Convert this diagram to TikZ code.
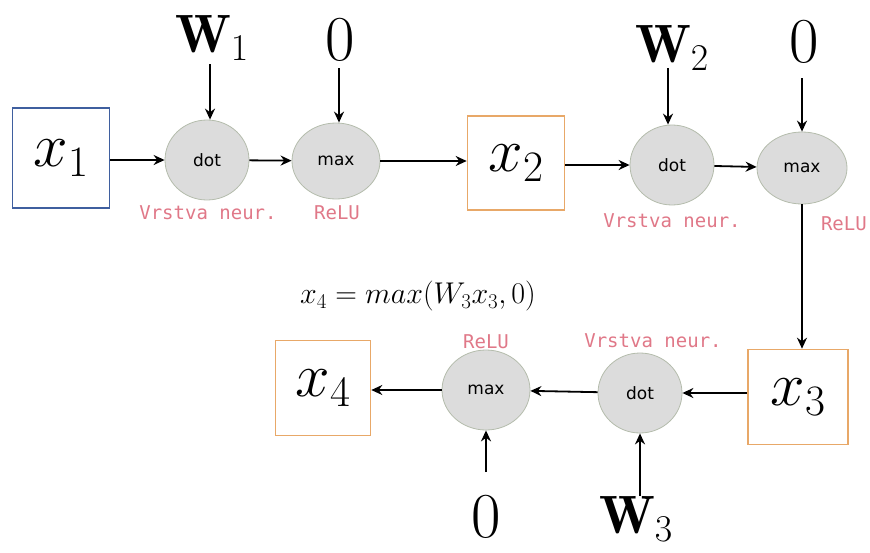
\RequirePackage{fix-cm}
\documentclass[tikz,border=0pt]{standalone}
\usepackage{fontspec}
\newfontfamily\opfont{DejaVu Sans}
\newfontfamily\lblfont{DejaVu Sans Mono}
\usetikzlibrary{arrows.meta,shapes.geometric}
\definecolor{boxblue}{HTML}{3F5F9F}
\definecolor{boxorange}{HTML}{E8A868}
\definecolor{opfill}{HTML}{DCDCDC}
\definecolor{opdraw}{HTML}{B4BCAC}
\definecolor{lblred}{HTML}{E07888}
\begin{document}
\begin{tikzpicture}[x=1pt,y=-1pt,
  varbox/.style={draw=#1,line width=1.6pt,minimum width=97pt,minimum height=100pt,inner sep=0pt,font=\fontsize{62}{62}\selectfont},
  opnode/.style={ellipse,fill=opfill,draw=opdraw,line width=0.8pt,minimum width=84pt,minimum height=80pt,inner sep=0pt,font=\opfont\fontsize{17}{17}\selectfont},
  wlbl/.style={inner sep=0pt,font=\fontsize{54}{54}\selectfont},
  zlbl/.style={inner sep=0pt,font=\fontsize{64}{64}\selectfont},
  redlbl/.style={text=lblred,inner sep=0pt,font=\lblfont\fontsize{19}{19}\selectfont},
  conn/.style={line width=1.8pt,-{Stealth[length=11pt,width=10pt]}}
]
\useasboundingbox (0,0) rectangle (870,552);
% row 1
\node[varbox=boxblue] (x1) at (61,158) {$x_1$};
\node[opnode] (d1) at (207,160) {dot};
\node[opnode,minimum width=88pt,minimum height=76pt] (m1) at (336,161) {max};
\node[varbox=boxorange,minimum height=94pt] (x2) at (516,163) {$x_2$};
\node[opnode] (d2) at (672,165) {dot};
\node[opnode,minimum width=90pt,minimum height=72pt] (m2) at (802,168) {max};
% row 2
\node[varbox=boxorange,minimum width=100pt,minimum height=95pt] (x3) at (798,397) {$x_3$};
\node[opnode] (d3) at (640,393) {dot};
\node[opnode,minimum width=88pt] (m3) at (486,390) {max};
\node[varbox=boxorange,minimum width=95pt,minimum height=95pt] (x4) at (323,388) {$x_4$};
% inputs
\node[wlbl] (w1) at (212,38) {$\mathbf{W}_1$};
\node[zlbl] (z1) at (340,40) {$0$};
\node[wlbl] (w2) at (672,48) {$\mathbf{W}_2$};
\node[zlbl] (z2) at (804,42) {$0$};
\node[zlbl] (z3) at (486,517) {$0$};
\node[wlbl] (w3) at (636,519) {$\mathbf{W}_3$};
% red labels
\node[redlbl] (l1) at (208,213) {Vrstva neur.};
\node[redlbl] (l2) at (337,213) {ReLU};
\node[redlbl] (l3) at (672,221) {Vrstva neur.};
\node[redlbl,anchor=east] (l4) at (867,224) {ReLU};
\node[redlbl] (l5) at (486,342) {ReLU};
\node[redlbl] (l6) at (653,341) {Vrstva neur.};
% formula
\node[inner sep=0pt,font=\fontsize{30}{30}\selectfont] (f) at (418,296) {$x_4 = max(W_3x_3,0)$};
% connectors
\coordinate (w1e) at (210,64);
\coordinate (z1e) at (339,68);
\coordinate (w2e) at (668,68);
\coordinate (z2e) at (802,78);
\coordinate (z3e) at (486,472);
\coordinate (w3e) at (640,496);
\draw[conn] (x1.east |- d1) -- (d1);
\draw[conn] (d1) -- (m1);
\draw[conn] (m1) -- (x2.west |- m1);
\draw[conn] (x2.east |- d2) -- (d2);
\draw[conn] (d2) -- (m2);
\draw[conn] (m2.south) -- (x3.north -| m2.south);
\draw[conn] (x3.west |- d3) -- (d3);
\draw[conn] (d3) -- (m3);
\draw[conn] (m3) -- (x4.east |- m3);
\draw[conn] (w1e) -- (d1.north -| w1e);
\draw[conn] (z1e) -- (m1.north -| z1e);
\draw[conn] (w2e) -- (d2.north -| w2e);
\draw[conn] (z2e) -- (m2.north -| z2e);
\draw[conn] (z3e) -- (m3.south);
\draw[conn] (w3e) -- (d3.south);
\end{tikzpicture}
\end{document}
